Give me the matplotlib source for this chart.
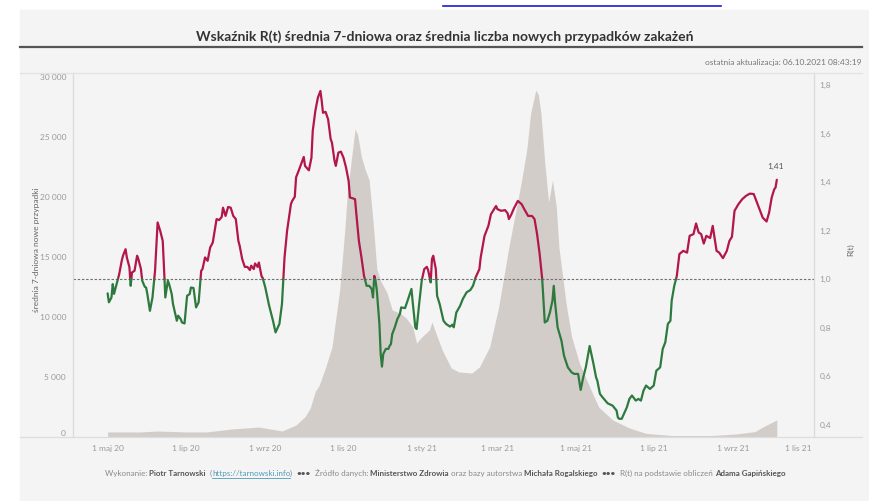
import matplotlib
matplotlib.use("Agg")
import matplotlib.pyplot as plt
from matplotlib.patches import Rectangle
from matplotlib.lines import Line2D
import numpy as np
import pandas as pd

plt.rcParams['font.family'] = ['Lato', 'DejaVu Sans']

start = pd.Timestamp("2020-05-01")

# 7-day average of new cases, days counted from 1 May 2020
case_day = [0, 25, 39, 62, 77, 97, 118, 132, 136, 147, 154, 158, 162, 165, 170, 175,
            181, 185, 187, 190, 193, 195, 198, 201, 204, 207, 210, 213, 218, 222, 228,
            233, 238, 241, 245, 251, 253, 256, 261, 268, 274, 284, 290, 298, 305, 313,
            319, 323, 327, 330, 334, 336, 338, 341, 344, 347, 350, 352, 355, 358, 362,
            368, 376, 383, 394, 407, 420, 440, 470, 490, 505, 511, 522]
case_avg = [420, 420, 500, 420, 420, 670, 830, 580, 500, 1000, 1700, 2400, 3800, 4300, 5800, 7500,
            12250, 17250, 20330, 23000, 25670, 25200, 23330, 22250, 21420, 18000, 14000, 13000, 12000, 10580, 10330,
            9900, 9170, 7830, 8330, 8920, 9580, 8670, 7250, 5750, 5420, 5330, 5830, 7500, 10830, 15830,
            19170, 21420, 24000, 27000, 28920, 28500, 27000, 22830, 19580, 21420, 19170, 15830, 13330, 10830, 8330,
            6170, 4170, 2500, 1420, 750, 300, 120, 120, 250, 450, 830, 1420]

# R(t), 7-day average
r_day = [0, 1, 3, 4, 5, 7, 8, 9, 11, 12, 14, 15, 17, 18, 19, 21, 23, 24, 26, 27, 29, 30, 31, 33, 35,
         37, 39, 41, 43, 44, 45, 47, 48, 50, 51, 54, 55, 57, 58, 60, 62, 64, 65, 67, 69, 71, 73, 74,
         76, 78, 80, 82, 85, 87, 89, 90, 92, 94, 96, 98, 100, 102, 103, 105, 107, 109, 111, 112, 114,
         115, 117, 118, 120, 121, 123, 126, 129, 131, 134, 136, 138, 140, 143, 144, 146, 147, 149, 152,
         153, 154, 157, 159, 160, 162, 164, 166, 167, 168, 170, 172, 174, 175, 177, 178, 180, 182, 184,
         186, 188, 189, 191, 193, 194, 196, 198, 200, 201, 202, 204, 206, 207, 208, 209, 210, 212, 213,
         214, 215, 217, 219, 220, 221, 222, 224, 226, 228, 229, 232, 234, 237, 238, 240, 241, 243, 245,
         247, 249, 250, 252, 253, 254, 256, 257, 259, 262, 264, 267, 269, 270, 272, 275, 277, 280, 283,
         285, 287, 290, 291, 294, 297, 299, 303, 304, 307, 310, 312, 313, 315, 317, 320, 323, 325, 328,
         331, 333, 335, 337, 339, 340, 341, 343, 345, 347, 348, 349, 351, 354, 356, 359, 362, 364, 367,
         369, 371, 373, 376, 379, 381, 382, 384, 386, 390, 394, 395, 397, 398, 399, 401, 405, 407, 409,
         412, 414, 416, 418, 420, 423, 426, 428, 431, 433, 435, 437, 439, 440, 442, 444, 446, 449, 452,
         454, 457, 459, 461, 463, 465, 467, 470, 472, 475, 477, 480, 483, 485, 487, 489, 492, 495, 498,
         501, 504, 506, 509, 511, 514, 516, 518, 520, 521, 522]
r_val = [0.942, 0.905, 0.925, 0.98, 0.94, 0.98, 1.0, 1.02, 1.076, 1.097, 1.124, 1.09, 1.05, 0.973, 1.028,
         1.035, 1.097, 1.083, 1.042, 0.994, 0.969, 0.966, 0.939, 0.87, 0.925,
         1.035, 1.234, 1.2, 1.158, 1.049, 0.925, 0.994, 0.98, 0.939, 0.898, 0.829, 0.85, 0.836, 0.822,
         0.818, 0.932, 0.939, 0.966, 0.964, 0.884, 0.905, 1.035, 1.042,
         1.09, 1.076, 1.131, 1.151, 1.248, 1.244, 1.257, 1.295, 1.261, 1.298, 1.295, 1.261, 1.248, 1.158,
         1.138, 1.083, 1.051, 1.051, 1.038, 1.056, 1.042,
         1.065, 1.051, 1.069, 1.014, 1.005, 0.966, 0.891, 0.829, 0.781, 0.816, 0.898, 1.09, 1.2, 1.31,
         1.323, 1.34, 1.42, 1.447, 1.49,
         1.504, 1.467, 1.449, 1.501, 1.611, 1.693, 1.748, 1.776, 1.735, 1.686, 1.69, 1.659, 1.577, 1.563,
         1.488, 1.467, 1.522, 1.526, 1.501,
         1.46, 1.405, 1.337, 1.334, 1.33, 1.27, 1.158, 1.09, 1.014, 0.994, 0.973, 0.973, 0.96, 0.925,
         1.014, 0.994, 0.953, 0.816, 0.692,
         0.64, 0.692, 0.713, 0.713, 0.726, 0.733, 0.774, 0.802, 0.836, 0.857, 0.884, 0.881, 0.912, 0.96,
         0.905, 0.802, 0.795, 0.898, 0.994,
         1.042, 1.051, 1.038, 0.987, 1.083, 1.097, 1.042, 0.932, 0.898, 0.829, 0.816, 0.805, 0.813, 0.802,
         0.863, 0.891, 0.918, 0.946, 0.956,
         0.973, 1.007, 1.042, 1.09, 1.179, 1.22, 1.268, 1.302, 1.289, 1.282, 1.285, 1.272, 1.248, 1.268,
         1.293, 1.323, 1.309, 1.289, 1.261,
         1.261, 1.248, 1.186, 1.104, 1.0, 0.912, 0.822, 0.829, 0.863, 0.912, 0.973, 0.905, 0.802, 0.747,
         0.685, 0.637, 0.616, 0.61, 0.61,
         0.544, 0.596, 0.637, 0.725, 0.651, 0.596, 0.582, 0.528, 0.514, 0.489, 0.479, 0.472, 0.459, 0.431,
         0.425, 0.425, 0.472, 0.507, 0.521,
         0.5, 0.507, 0.5, 0.541, 0.562, 0.548, 0.562, 0.623, 0.637, 0.713, 0.74, 0.816, 0.829, 0.912, 0.973,
         1.014, 1.104, 1.117, 1.11,
         1.179, 1.186, 1.23, 1.193, 1.186, 1.147, 1.179, 1.17, 1.22, 1.117, 1.11, 1.087, 1.117, 1.158, 1.175,
         1.282, 1.309, 1.33, 1.344,
         1.353, 1.351, 1.323, 1.282, 1.254, 1.238, 1.275, 1.337, 1.371, 1.378, 1.41]

tick_dates = ["2020-05-01", "2020-07-01", "2020-09-01", "2020-11-01", "2021-01-01",
              "2021-03-01", "2021-05-01", "2021-07-01", "2021-09-01", "2021-11-01"]
tick_labels = ["1 maj 20", "1 lip 20", "1 wrz 20", "1 lis 20", "1 sty 21",
               "1 mar 21", "1 maj 21", "1 lip 21", "1 wrz 21", "1 lis 21"]
left_ticks = [0, 5000, 10000, 15000, 20000, 25000, 30000]
right_ticks = [0.4, 0.6, 0.8, 1.0, 1.2, 1.4, 1.6, 1.8]

panel = "#f4f4f4"
area_c = "#d3cdca"
red = "#b3164a"
green = "#2e7a3e"
lab_c = "#9a9a9a"

W, H = 870, 501
fig = plt.figure(figsize=(W / 100, H / 100), dpi=100)
fig.patch.set_facecolor("white")
fig.add_artist(Rectangle((20 / W, 0), 850 / W, 491 / H, transform=fig.transFigure,
                         color=panel, zorder=-5))

# underline of the link cut off at the top of the screenshot
fig.add_artist(Line2D([443 / W, 721 / W], [495 / H, 495 / H], color="#1a1adb", lw=1.2))

fig.text(445 / W, 464 / H, "Wskaźnik R(t) średnia 7-dniowa oraz średnia liczba nowych przypadków zakażeń",
         ha="center", va="center", fontsize=10, fontweight="bold", color="#333333")
fig.add_artist(Line2D([20 / W, 862 / W], [454 / H, 454 / H], color="#555555", lw=1.6))
fig.text(862 / W, 439 / H, "ostatnia aktualizacja: 06.10.2021 08:43:19", ha="right", va="center",
         fontsize=6, color="#777777")

ax = fig.add_axes([73 / W, 64 / H, 741 / W, 364 / H])
ax.set_facecolor(panel)
ax2 = ax.twinx()

dates = start + pd.to_timedelta(case_day, unit="D")
ax.set_ylim(0, 30333)
ax.fill_between(dates, case_avg, 0, color=area_c, lw=0)

# R line, split at R = 1 into red / green parts
rd = np.array(r_day, dtype=float)
rv = np.array(r_val)
xs, ys = [rd[0]], [rv[0]]
for i in range(1, len(rd)):
    a, b = rv[i - 1] - 1, rv[i] - 1
    if a * b < 0:
        t = a / (a - b)
        xs.append(rd[i - 1] + t * (rd[i] - rd[i - 1]))
        ys.append(1.0)
    xs.append(rd[i])
    ys.append(rv[i])
xs = np.array(xs)
ys = np.array(ys)
rdates = start + pd.to_timedelta(xs, unit="D")
ax2.plot(rdates, np.where(ys >= 1, ys, np.nan), color=red, lw=1.6, solid_capstyle="round")
ax2.plot(rdates, np.where(ys <= 1, ys, np.nan), color=green, lw=1.6, solid_capstyle="round")
ax2.axhline(1.0, color="#707070", lw=0.8, ls=(0, (2.2, 1.6)), zorder=1)
ax2.set_ylim(0.35, 1.85)
ax2.annotate("1,41", (rdates[-1], ys[-1]), xytext=(-1, 7), textcoords="offset points",
             ha="center", va="bottom", fontsize=6, color="#555555")

ax.set_xlim(start - pd.Timedelta(days=27), start + pd.Timedelta(days=551))
ax.set_xticks(pd.to_datetime(tick_dates))
ax.set_xticklabels(tick_labels)
ax.set_yticks(left_ticks)
ax.set_yticklabels([f"{v:,}".replace(",", " ") for v in left_ticks])
ax2.set_yticks(right_ticks)
ax2.set_yticklabels([f"{v:.1f}".replace(".", ",") for v in right_ticks])
ax.get_xticklabels()[-1].set_ha("right")
ax.get_yticklabels()[0].set_va("bottom")

for a in (ax, ax2):
    a.tick_params(length=0, labelsize=6, labelcolor=lab_c)
    for s in ("top", "bottom"):
        a.spines[s].set_visible(False)
    a.spines["left"].set_color("#dadada")
    a.spines["right"].set_color("#dadada")
ax.tick_params(axis="x", pad=6)
ax.tick_params(axis="y", pad=5)
ax2.tick_params(axis="y", pad=4)

fig.add_artist(Line2D([20 / W, 862 / W], [428 / H, 428 / H], color="#e2e2e2", lw=0.9))
fig.add_artist(Line2D([20 / W, 862 / W], [64 / H, 64 / H], color="#dddddd", lw=0.9))

fig.text(37 / W, 251 / H, "średnia 7-dniowa nowe przypadki", rotation=90, ha="center", va="center",
         fontsize=6, color="#666666")
fig.text(851 / W, 251 / H, "R(t)", rotation=90, ha="center", va="center", fontsize=6, color="#666666")

# footer with mixed styles
grey, dark, link = "#8a8a8a", "#555555", "#4f9bb8"
parts = [("Wykonanie: ", grey, "normal"), ("Piotr Tarnowski", dark, "bold"), ("  (", grey, "normal"),
         ("https://tarnowski.info", link, "normal"), (")  ", grey, "normal"), ("•••", dark, "bold"),
         ("  Źródło danych: ", grey, "normal"), ("Ministerstwo Zdrowia", dark, "bold"),
         (" oraz bazy autorstwa ", grey, "normal"), ("Michała Rogalskiego", dark, "bold"),
         ("  ", grey, "normal"), ("•••", dark, "bold"), ("  R(t) na podstawie obliczeń ", grey, "normal"),
         ("Adama Gapińskiego", dark, "bold")]
fy = 25 / H
texts = []
for s, c, w in parts:
    texts.append(fig.text(105 / W, fy, s, color=c, fontweight=w, fontsize=5.75,
                          ha="left", va="baseline"))
fig.canvas.draw()
r = fig.canvas.get_renderer()
x0 = texts[0].get_window_extent(r).x1
for t in texts[1:]:
    t.set_position((x0 / W, fy))
    x0 = t.get_window_extent(r).x1
bb = texts[3].get_window_extent(r)
fig.add_artist(Line2D([bb.x0 / W, bb.x1 / W], [23.5 / H, 23.5 / H], color=link, lw=0.6))

fig.savefig("out.png", dpi=100, facecolor=fig.get_facecolor())
